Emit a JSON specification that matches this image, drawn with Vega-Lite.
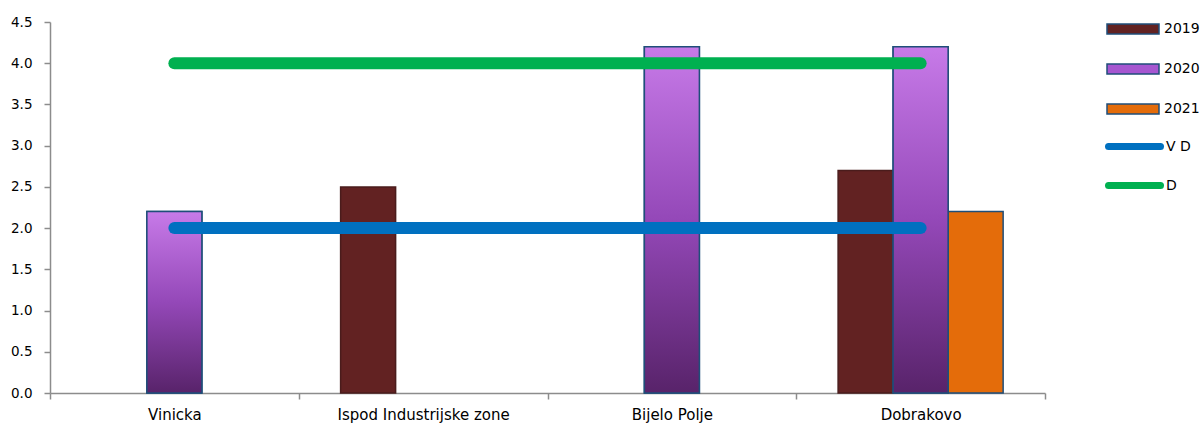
{
  "$schema": "https://vega.github.io/schema/vega-lite/v6.json",
  "width": 995,
  "height": 371,
  "autosize": {"type": "none"},
  "padding": {"left": 50, "top": 22, "right": 157, "bottom": 35},
  "background": "white",
  "config": {
    "view": {"stroke": null},
    "font": "DejaVu Sans",
    "axis": {"labelFont": "DejaVu Sans", "labelColor": "#000000", "labelFontSize": 14, "domainColor": "#8c8c8c", "tickColor": "#8c8c8c", "domainWidth": 1.5, "tickWidth": 1.5, "tickSize": 6, "grid": false, "title": null},
    "legend": {"labelFont": "DejaVu Sans", "labelFontSize": 14, "labelColor": "#000000", "padding": 0}
  },
  "datasets": {
    "bars": [
      {"site": "Vinicka", "year": "2020", "value": 2.2},
      {"site": "Ispod Industrijske zone", "year": "2019", "value": 2.5},
      {"site": "Bijelo Polje", "year": "2020", "value": 4.2},
      {"site": "Dobrakovo", "year": "2019", "value": 2.7},
      {"site": "Dobrakovo", "year": "2020", "value": 4.2},
      {"site": "Dobrakovo", "year": "2021", "value": 2.2}
    ],
    "lines": [
      {"site": "Vinicka", "series": "V D", "value": 2},
      {"site": "Dobrakovo", "series": "V D", "value": 2},
      {"site": "Vinicka", "series": "D", "value": 4},
      {"site": "Dobrakovo", "series": "D", "value": 4}
    ]
  },
  "layer": [
    {
      "data": {"name": "bars"},
      "mark": {"type": "bar", "strokeWidth": 1.5},
      "encoding": {
        "x": {"field": "site", "type": "nominal", "scale": {"domain": ["Vinicka", "Ispod Industrijske zone", "Bijelo Polje", "Dobrakovo"], "paddingInner": 0, "paddingOuter": 0}, "axis": {"tickBand": "extent", "labelAngle": 0, "labelPadding": 8, "labelFontSize": 15}},
        "xOffset": {"field": "year", "type": "nominal", "scale": {"domain": ["2019", "2020", "2021"], "paddingInner": 0, "paddingOuter": 0.761}},
        "y": {"field": "value", "type": "quantitative", "scale": {"domain": [0, 4.5], "nice": false}, "axis": {"values": [0, 0.5, 1, 1.5, 2, 2.5, 3, 3.5, 4, 4.5], "format": ".1f", "labelPadding": 12, "labelFontSize": 13.5}},
        "fill": {"field": "year", "type": "nominal", "scale": {"domain": ["2019", "2020", "2021"], "range": ["#622222", "#a656d0", "#e46c0a"]},
          "legend": {"title": null, "orient": "none", "legendX": 1072, "legendY": -4, "symbolType": "M-2.6,-0.5H2.6V0.5H-2.6Z", "symbolSize": 400, "symbolStrokeWidth": 1.5, "labelOffset": 20, "rowPadding": 21, "labelFontSize": 14,
            "encode": {"symbols": {"update": {"stroke": [{"test": "datum.value === '2019'", "value": "#4a1a1a"}, {"value": "#1f4e79"}], "strokeWidth": {"value": 1.5}}}}}},
        "stroke": {"condition": {"test": "datum.year === '2019'", "value": "#4a1c1c"}, "value": "#1f4e79"}
      }
    },
    {
      "data": {"name": "bars"},
      "transform": [{"filter": "datum.year === '2020'"}],
      "mark": {"type": "bar", "strokeWidth": 1.5, "stroke": "#1f4e79",
        "fill": {"gradient": "linear", "x1": 0, "y1": 0, "x2": 0, "y2": 1, "stops": [{"offset": 0, "color": "#c77ae8"}, {"offset": 0.5, "color": "#9448b8"}, {"offset": 1, "color": "#58236a"}]}},
      "encoding": {
        "x": {"field": "site", "type": "nominal"},
        "xOffset": {"field": "year", "type": "nominal"},
        "y": {"field": "value", "type": "quantitative"}
      }
    },
    {
      "data": {"name": "lines"},
      "mark": {"type": "line", "strokeWidth": 12, "strokeCap": "round"},
      "encoding": {
        "x": {"field": "site", "type": "nominal"},
        "y": {"field": "value", "type": "quantitative"},
        "stroke": {"field": "series", "type": "nominal", "scale": {"domain": ["V D", "D"], "range": ["#0070c0", "#00b050"]},
          "legend": {"title": null, "orient": "none", "legendX": 1071, "legendY": 111, "symbolType": "M-2.6,0H2.6", "symbolSize": 400, "symbolStrokeWidth": 7, "labelOffset": 18, "rowPadding": 10, "labelFontSize": 14,
            "encode": {"symbols": {"update": {"strokeCap": {"value": "round"}, "fill": {"value": "transparent"}}}}}}
      }
    }
  ]
}
